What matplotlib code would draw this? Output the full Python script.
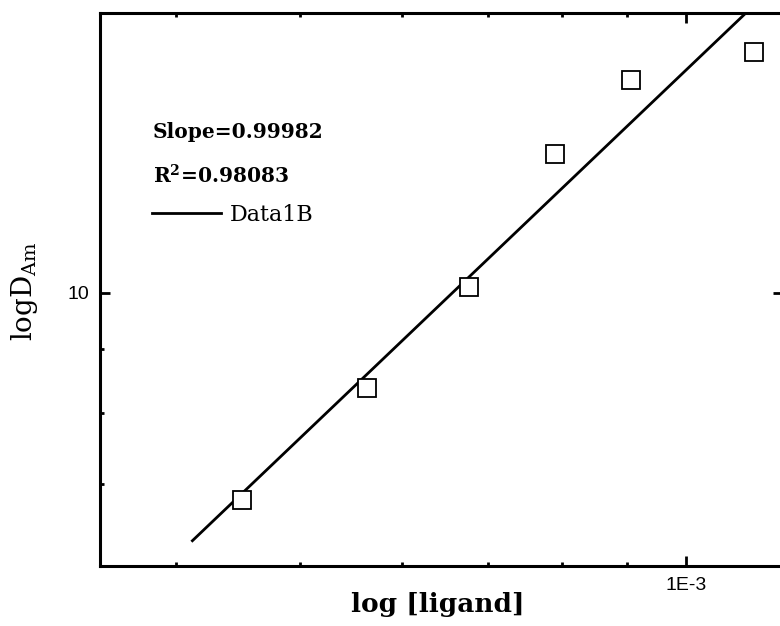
import matplotlib
matplotlib.use('Agg')
import matplotlib.pyplot as plt
from matplotlib.ticker import LogLocator, NullFormatter, FixedLocator, FixedFormatter

plt.rcParams['font.family'] = 'DejaVu Serif'
plt.rcParams['mathtext.fontset'] = 'custom'
plt.rcParams['mathtext.rm'] = 'DejaVu Serif'
plt.rcParams['mathtext.bf'] = 'DejaVu Serif:bold'

# data
ligand = [4.50e-4, 5.64e-4, 6.77e-4, 7.90e-4, 9.05e-4, 1.13e-3]
d_am = [6.80, 8.38, 10.11, 12.96, 14.87, 15.67]
fit_x = [4.12e-4, 1.15e-3]
fit_y = [6.30, 17.4]
slope_txt = 'Slope=0.99982'
r2_txt = r'$\mathbf{R^{2}}$' + '=0.98083'

fig = plt.figure(figsize=(7.8, 6.26), dpi=100)
ax = fig.add_axes([100 / 780, 60 / 626, 683 / 780, 553 / 626])

ax.plot(fit_x, fit_y, color='black', lw=2, label='Data1B')
ax.plot(ligand, d_am, ls='none', marker='s', ms=13, mfc='white', mec='black', mew=1.3)

ax.set_xscale('log')
ax.set_yscale('log')
# right edge pushed a bit past the picture, as in the original
ax.set_xlim(3.49e-4, 1.19e-3)
ax.set_ylim(6.01, 16.85)

ax.xaxis.set_major_locator(FixedLocator([1e-3]))
ax.xaxis.set_major_formatter(FixedFormatter(['1E-3']))
ax.xaxis.set_minor_locator(LogLocator(base=10, subs=range(2, 10)))
ax.xaxis.set_minor_formatter(NullFormatter())
ax.yaxis.set_major_locator(FixedLocator([10]))
ax.yaxis.set_major_formatter(FixedFormatter(['10']))
ax.yaxis.set_minor_locator(LogLocator(base=10, subs=range(2, 10)))
ax.yaxis.set_minor_formatter(NullFormatter())

for s in ax.spines.values():
    s.set_linewidth(2.2)
ax.tick_params(which='both', direction='in', top=True, right=True, width=2)
ax.tick_params(which='major', length=7, labelsize=14, pad=8)
ax.tick_params(which='minor', length=3, right=False)
for lab in ax.get_xticklabels() + ax.get_yticklabels():
    lab.set_family('Liberation Sans')

ax.set_xlabel('log [ligand]', fontsize=19, fontweight='bold')
ax.xaxis.set_label_coords(0.495, -0.047)
ax.set_ylabel(r'logD$_{\mathrm{Am}}$', fontsize=20)
ax.yaxis.set_label_coords(-0.088, 0.497)

ax.text(153 / 780, 1 - 132 / 626, slope_txt, transform=fig.transFigure,
        fontsize=14.5, fontweight='bold', va='center')
ax.text(153 / 780, 1 - 176 / 626, r2_txt, transform=fig.transFigure,
        fontsize=14.5, fontweight='bold', va='center')
ax.legend(loc='center left', bbox_to_anchor=(132 / 780, 1 - 215 / 626),
          bbox_transform=fig.transFigure, frameon=False, fontsize=16,
          handlelength=3.1, handletextpad=0.4)

fig.savefig('out.png', dpi=100)
